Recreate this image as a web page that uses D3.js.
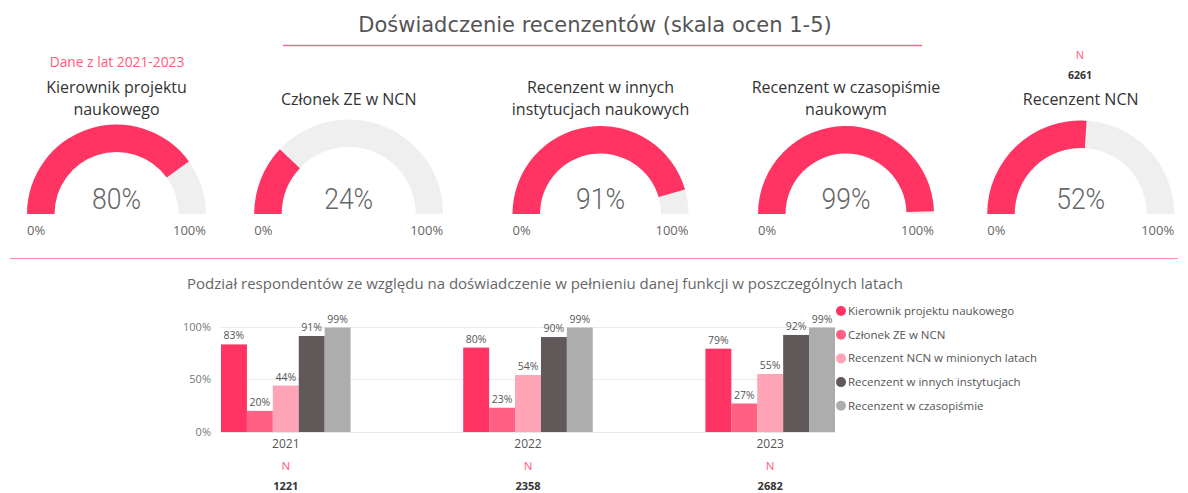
<!DOCTYPE html>
<html>
<head>
<meta charset="utf-8">
<script src="https://cdn.jsdelivr.net/npm/d3@7"></script>
<style>
  body { margin: 0; background: #fff; }
  svg { display: block; font-family: "Segoe UI", "Open Sans", sans-serif; }
</style>
</head>
<body>
<svg id="chart" width="1188" height="493"></svg>
<script>
// Gauges (overall 2021-2023)
const gaugeTitles = [
  ["Kierownik projektu", "naukowego"],
  ["Członek ZE w NCN"],
  ["Recenzent w innych", "instytucjach naukowych"],
  ["Recenzent w czasopiśmie", "naukowym"],
  ["Recenzent NCN"]
];
const gaugeValues = [80, 24, 91, 99, 52];
const totalN = 6261;

// Bar chart by year
const years = ["2021", "2022", "2023"];
const seriesNames = [
  "Kierownik projektu naukowego",
  "Członek ZE w NCN",
  "Recenzent NCN w minionych latach",
  "Recenzent w innych instytucjach",
  "Recenzent w czasopiśmie"
];
const values2021 = [83, 20, 44, 91, 99];
const values2022 = [80, 23, 54, 90, 99];
const values2023 = [79, 27, 55, 92, 99];
const yearN = [1221, 2358, 2682];
const yTicks = [0, 50, 100];

const seriesColors = ["#ff3462", "#ff6083", "#ffa4b6", "#605859", "#adadad"];
const pink = "#ff3462";
const gaugeBg = "#f0efef";

// tile layout of the gauge row (Power BI visuals are not evenly spaced)
const gaugeLayout = [
  { cx: 116.5, r: 89.5 },
  { cx: 348.7, r: 94.5 },
  { cx: 600.5, r: 88 },
  { cx: 846, r: 88 },
  { cx: 1080.7, r: 93.5 }
];
const gaugeBaseY = 214;
const gaugeThick = 27.5;

const svg = d3.select("#chart");

// header
svg.append("text").attr("x", 595).attr("y", 32).attr("text-anchor", "middle")
  .style("font-family", "DejaVu Sans").style("font-size", "21px").attr("fill", "#555")
  .text("Doświadczenie recenzentów (skala ocen 1-5)");
svg.append("line").attr("x1", 283).attr("x2", 922).attr("y1", 45.5).attr("y2", 45.5)
  .attr("stroke", "#f76a88").attr("stroke-width", 1.3);
svg.append("line").attr("x1", 10).attr("x2", 1178).attr("y1", 258.5).attr("y2", 258.5)
  .attr("stroke", "#ff8aa3").attr("stroke-width", 1);

svg.append("text").attr("x", 117).attr("y", 67).attr("text-anchor", "middle")
  .style("font-size", "13.8px").attr("fill", "#ff5a7c").text("Dane z lat 2021-2023");
svg.append("text").attr("x", 1080).attr("y", 59).attr("text-anchor", "middle")
  .style("font-size", "11px").attr("fill", "#ff5a7c").text("N");
svg.append("text").attr("x", 1080).attr("y", 79).attr("text-anchor", "middle")
  .style("font-size", "10.5px").style("font-weight", "bold").attr("fill", "#333").text(totalN);

// gauges
const angle = d3.scaleLinear().domain([0, 100]).range([-Math.PI / 2, Math.PI / 2]);

gaugeValues.forEach((v, i) => {
  const L = gaugeLayout[i];
  const g = svg.append("g").attr("transform", `translate(${L.cx},${gaugeBaseY})`);
  const arc = d3.arc().innerRadius(L.r - gaugeThick).outerRadius(L.r);
  g.append("path").attr("d", arc({ startAngle: angle(0), endAngle: angle(100) })).attr("fill", gaugeBg);
  g.append("path").attr("d", arc({ startAngle: angle(0), endAngle: angle(v) })).attr("fill", pink);

  g.append("text").attr("x", 0).attr("y", -5).attr("text-anchor", "middle")
    .style("font-family", "Roboto, sans-serif").style("font-weight", "300")
    .style("font-size", "30px").attr("fill", "#666")
    .attr("textLength", 49).attr("lengthAdjust", "spacingAndGlyphs")
    .text(v + "%");
  g.append("text").attr("x", -L.r).attr("y", 21).attr("text-anchor", "start")
    .style("font-size", "13px").attr("fill", "#666").text("0%");
  g.append("text").attr("x", L.r).attr("y", 21).attr("text-anchor", "end")
    .style("font-size", "13px").attr("fill", "#666").text("100%");

  const lines = gaugeTitles[i];
  const top = lines.length === 2 ? 93 : 105;
  lines.forEach((t, j) => {
    svg.append("text").attr("x", L.cx).attr("y", top + j * 22).attr("text-anchor", "middle")
      .style("font-size", "16px").attr("fill", "#333").text(t);
  });
});

// bar chart
const valuesByYear = [values2021, values2022, values2023];
const barData = years.map((yr, i) => ({ year: yr, n: yearN[i], values: valuesByYear[i] }));

svg.append("text").attr("x", 187).attr("y", 289)
  .style("font-size", "15px").attr("fill", "#666")
  .text("Podział respondentów ze względu na doświadczenie w pełnieniu danej funkcji w poszczególnych latach");

const x0 = d3.scaleBand().domain(years).range([221, 835]).paddingInner(0.465);
const x1 = d3.scaleBand().domain(seriesNames).range([0, x0.bandwidth()]);
const y = d3.scaleLinear().domain([0, 100]).range([432, 326.5]);

svg.append("g").selectAll("line").data(yTicks.filter(d => d > 0)).join("line")
  .attr("x1", 221).attr("x2", 835).attr("y1", d => Math.round(y(d)) + 0.5).attr("y2", d => Math.round(y(d)) + 0.5)
  .attr("stroke", "#eaeaea");
svg.append("line").attr("x1", 221).attr("x2", 835).attr("y1", 432.5).attr("y2", 432.5).attr("stroke", "#e6e6e6");

svg.append("g").selectAll("text").data(yTicks).join("text")
  .attr("x", 211).attr("y", d => y(d) + 4).attr("text-anchor", "end")
  .style("font-size", "11px").attr("fill", "#777").text(d => d + "%");

const groups = svg.append("g").selectAll("g").data(barData).join("g")
  .attr("transform", d => `translate(${x0(d.year)},0)`);

groups.selectAll("rect").data(d => d.values.map((v, k) => ({ key: seriesNames[k], v, k }))).join("rect")
  .attr("x", d => x1(d.key)).attr("width", x1.bandwidth())
  .attr("y", d => y(d.v)).attr("height", d => y(0) - y(d.v))
  .attr("fill", d => seriesColors[d.k]);

groups.selectAll("text.lbl").data(d => d.values.map((v, k) => ({ key: seriesNames[k], v }))).join("text")
  .attr("class", "lbl")
  .attr("x", d => x1(d.key) + x1.bandwidth() / 2).attr("y", d => y(d.v) - 5)
  .attr("text-anchor", "middle").style("font-size", "10.5px").attr("fill", "#555")
  .text(d => d.v + "%");

groups.append("text").attr("x", x0.bandwidth() / 2).attr("y", 448).attr("text-anchor", "middle")
  .style("font-size", "12px").attr("fill", "#555").text(d => d.year);
groups.append("text").attr("x", x0.bandwidth() / 2).attr("y", 470).attr("text-anchor", "middle")
  .style("font-size", "11.5px").attr("fill", "#ff5a7c").text("N");
groups.append("text").attr("x", x0.bandwidth() / 2).attr("y", 490).attr("text-anchor", "middle")
  .style("font-size", "11px").style("font-weight", "bold").attr("fill", "#333").text(d => d.n);

// legend
const legend = svg.append("g").selectAll("g").data(seriesNames).join("g")
  .attr("transform", (d, i) => `translate(841,${311 + i * 23.7})`);
legend.append("circle").attr("r", 5).attr("fill", (d, i) => seriesColors[i]);
legend.append("text").attr("x", 7).attr("y", 4).style("font-size", "11.5px").attr("fill", "#555").text(d => d);
</script>
</body>
</html>
